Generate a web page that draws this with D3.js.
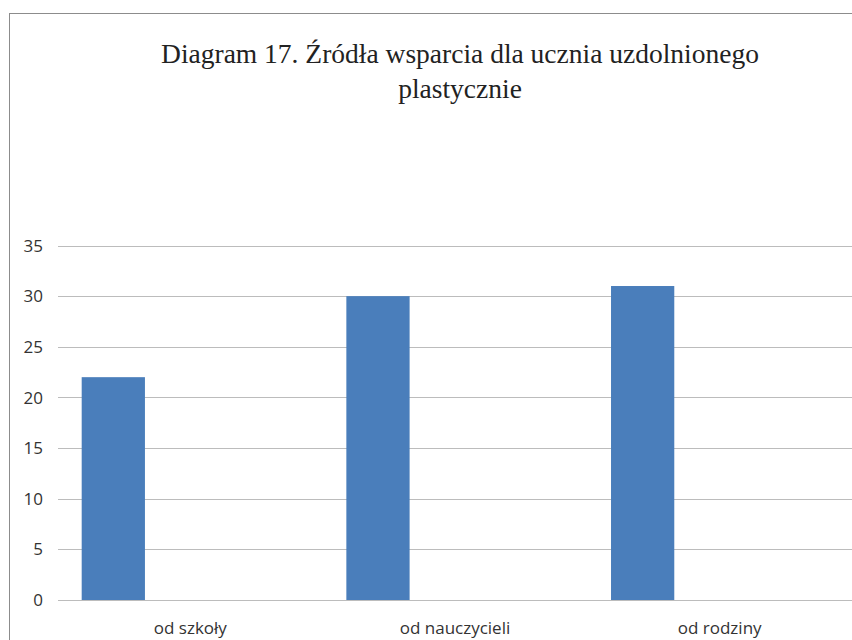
<!DOCTYPE html>
<html><head><meta charset="utf-8">
<script src="https://cdn.jsdelivr.net/npm/d3@7"></script>
<style>html,body{margin:0;padding:0;background:#fff;}svg{display:block;}</style>
</head><body>
<script>
const titleLines = ["Diagram 17. Źródła wsparcia dla ucznia uzdolnionego", "plastycznie"];
const categories = ["od szkoły", "od nauczycieli", "od rodziny"];
const values = [22, 30, 31];
const yTicks = [0, 5, 10, 15, 20, 25, 30, 35];

const W = 852, H = 640;
const svg = d3.select("body").append("svg").attr("width", W).attr("height", H);

svg.append("rect").attr("x", 9.5).attr("y", 13.5).attr("width", 1000).attr("height", 800)
  .attr("fill", "#fff").attr("stroke", "#8c8c8c").attr("stroke-width", 1);

const x = d3.scaleBand().domain(categories).range([58, 852]).paddingInner(0).paddingOuter(0);
const y = d3.scaleLinear().domain([0, 35]).range([600, 245.5]);

// gridlines
svg.append("g").selectAll("line").data(yTicks).join("line")
  .attr("x1", 58).attr("x2", 852)
  .attr("y1", d => Math.round(y(d)) + 0.5).attr("y2", d => Math.round(y(d)) + 0.5)
  .attr("stroke", "#bcbcbc").attr("stroke-width", 1.2);

// y tick labels
svg.append("g").selectAll("text").data(yTicks).join("text")
  .attr("x", 43).attr("y", d => y(d)).attr("dy", "0.36em")
  .attr("text-anchor", "end")
  .attr("font-family", "'Open Sans', sans-serif").attr("font-size", 17)
  .attr("fill", "#333").text(d => d);

// bars
const bw = x.bandwidth();
svg.append("g").selectAll("rect").data(values).join("rect")
  .attr("x", (d, i) => x(categories[i]) + bw * 0.0895)
  .attr("width", bw * 0.239)
  .attr("y", d => y(d))
  .attr("height", d => y(0) - y(d))
  .attr("fill", "#4a7ebb");

// category labels
svg.append("g").selectAll("text").data(categories).join("text")
  .attr("x", d => x(d) + bw / 2).attr("y", 634)
  .attr("text-anchor", "middle")
  .attr("font-family", "'Open Sans', sans-serif").attr("font-size", 17)
  .attr("fill", "#333").text(d => d);

// title
svg.append("g").selectAll("text").data(titleLines).join("text")
  .attr("x", 460).attr("y", (d, i) => 63 + i * 35)
  .attr("text-anchor", "middle")
  .attr("font-family", "'Liberation Serif', 'Times New Roman', serif").attr("font-size", 27.5)
  .attr("fill", "#222").text(d => d);
</script>
</body></html>
